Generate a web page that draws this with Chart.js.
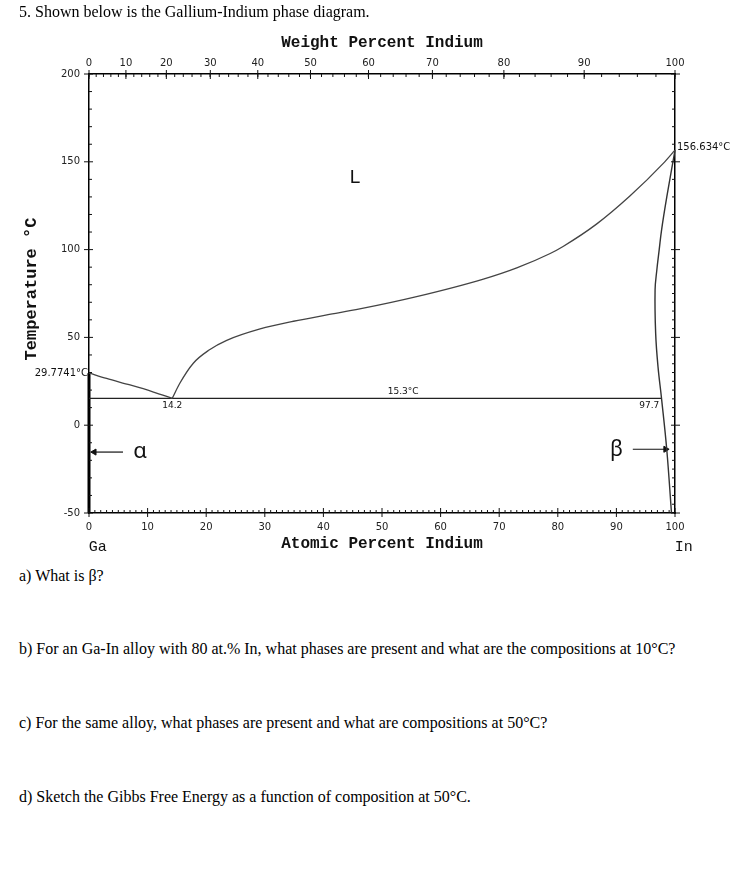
<!DOCTYPE html>
<html>
<head>
<meta charset="utf-8">
<script src="https://cdn.jsdelivr.net/npm/chart.js@4.4.0/dist/chart.umd.min.js"></script>
<style>
  html, body { margin: 0; padding: 0; background: #fff; }
  body { width: 749px; height: 873px; position: relative; overflow: hidden; }
  #wrap { position: absolute; left: 0; top: 0; width: 749px; height: 560px; }
  .q { position: absolute; left: 19px; font-family: "Liberation Serif", serif; font-size: 16px;
       line-height: 18px; color: #000; white-space: nowrap; z-index: 2; }
</style>
</head>
<body>
<div id="wrap"><canvas id="chart"></canvas></div>
<div class="q" style="top:3px">5. Shown below is the Gallium-Indium phase diagram.</div>
<div class="q" style="top:567px">a) What is β?</div>
<div class="q" style="top:640px">b) For an Ga-In alloy with 80 at.% In, what phases are present and what are the compositions at 10°C?</div>
<div class="q" style="top:714px">c) For the same alloy, what phases are present and what are compositions at 50°C?</div>
<div class="q" style="top:788px">d) Sketch the Gibbs Free Energy as a function of composition at 50°C.</div>
<script>
// liquidus on the Ga side (atomic % In, °C)
const gaLiqX = [0, 3, 7, 11, 14.2];
const gaLiqT = [29.7741, 26.6, 22.9, 18.9, 15.3];

// liquidus on the In side
const inLiqX = [14.2, 15.5, 17.8, 20.5, 23.5, 29.2, 34.9, 40.6, 46.2, 55.9, 67.3, 73, 78.7, 80.9, 86.6, 92.3, 98, 100];
const inLiqT = [15.3, 23.9, 35.3, 42.8, 48.3, 54.8, 59.2, 62.8, 66.2, 73.2, 83.2, 89.6, 97.8, 101.8, 114.5, 130.5, 149.1, 156.634];

// beta boundary
const betaX = [100, 98.6, 97.7, 97.3, 96.9, 96.6, 96.7, 97.1, 97.7, 98.6, 99.4];
const betaT = [156.634, 130, 111, 99.8, 88.4, 77, 52.3, 33.3, 15.3, -14.1, -50];

// eutectic line and pure Ga (alpha) line
const eutX = [0, 97.7];
const eutT = [15.3, 15.3];
const alphaX = [0, 0];
const alphaT = [29.7741, -50];

// arrows pointing at the phases
const alphaArrowX = [5.8, 0.9];
const alphaArrowT = [-15.3, -15.3];
const betaArrowX = [92.8, 98.4];
const betaArrowT = [-13.7, -13.7];

// top axis: weight percent labels and where they sit on the atomic scale
const wtLabels = ['0', '10', '20', '30', '40', '50', '60', '70', '80', '90', '100'];
const wtAtPos = [0, 6.3, 13.2, 20.7, 28.8, 37.8, 47.7, 58.6, 70.8, 84.5, 100];

// text in the plot
const annoText = ['L', 'α', 'β', '14.2', '15.3°C', '97.7'];
const annoX = [45.4, 8.7, 90, 14.2, 53.6, 95.6];
const annoT = [140.8, -15.3, -14, 11.3, 19.2, 11.3];

const pts = (xs, ys) => xs.map((v, i) => ({ x: v, y: ys[i] }));

// weight % In -> atomic % In (only used to place the small top ticks)
const wtToAt = (w) => {
    const a = w / 114.818, b = (100 - w) / 69.723;
    return 100 * a / (a + b);
};

const annoFont = [
    '19px "Liberation Sans"', '22px "Noto Sans"', '21px "Noto Sans"',
    '9px "DejaVu Sans"', '9px "DejaVu Sans"', '9px "DejaVu Sans"'
];

const phaseExtras = {
    id: 'phaseExtras',
    afterDatasetsDraw(chart) {
        const { ctx, chartArea: a, scales: { x, y } } = chart;
        const seg = (x1, y1, x2, y2) => {
            ctx.beginPath(); ctx.moveTo(x1, y1); ctx.lineTo(x2, y2); ctx.stroke();
        };
        ctx.save();
        ctx.strokeStyle = '#111';
        ctx.lineWidth = 1;

        // bottom ticks every 1 at.%
        for (let v = 0; v <= 100; v++) {
            const px = x.getPixelForValue(v);
            if (v % 10 === 0) seg(px, a.bottom - 5, px, a.bottom + 4);
            else seg(px, a.bottom - 3, px, a.bottom);
        }
        // top ticks every 2 wt.%
        for (let w = 0; w <= 100; w += 2) {
            const px = x.getPixelForValue(wtToAt(w));
            seg(px, a.top, px, a.top + 3);
        }
        wtAtPos.forEach((v) => {
            const px = x.getPixelForValue(v);
            seg(px, a.top - 4, px, a.top + 5);
        });
        // left ticks
        for (let t = -50; t <= 200; t += 10) {
            const py = y.getPixelForValue(t);
            if (t % 50 === 0) seg(a.left - 5, py, a.left + 4, py);
            else seg(a.left, py, a.left + 3, py);
        }
        // right ticks
        for (let t = -50; t <= 200; t += (t < 100 ? 5 : 10)) {
            const py = y.getPixelForValue(t);
            if (t % 50 === 0) seg(a.right - 4, py, a.right + 5, py);
            else seg(a.right - 3, py, a.right, py);
        }

        // labels inside the plot
        ctx.fillStyle = '#111';
        ctx.textAlign = 'center';
        ctx.textBaseline = 'middle';
        annoText.forEach((t, i) => {
            ctx.font = annoFont[i];
            ctx.fillText(t, x.getPixelForValue(annoX[i]), y.getPixelForValue(annoT[i]));
        });

        // temperatures at the edges
        ctx.font = '10px "DejaVu Sans"';
        ctx.textAlign = 'right';
        ctx.fillText('29.7741°C', a.left - 1, y.getPixelForValue(29.7741));
        ctx.textAlign = 'left';
        ctx.fillText('156.634°C', a.right + 2, y.getPixelForValue(158.2));

        // axis titles
        ctx.textAlign = 'center';
        ctx.font = 'bold 16px "Liberation Mono"';
        const mid = (a.left + a.right) / 2;
        ctx.fillText('Weight Percent Indium', mid, 43);
        ctx.fillText('Atomic Percent Indium', mid, 544);
        ctx.font = '15px "Liberation Mono"';
        ctx.fillText('Ga', x.getPixelForValue(1.5), 547);
        ctx.fillText('In', x.getPixelForValue(101.5), 547);
        ctx.save();
        ctx.translate(32, 289);
        ctx.rotate(-Math.PI / 2);
        ctx.font = 'bold 17px "Liberation Mono"';
        ctx.fillText('Temperature °C', 0, 0);
        ctx.restore();

        ctx.restore();
    }
};

const curve = (data, color, width, tension, mode) => ({
    data: data, showLine: true, borderColor: color, borderWidth: width,
    pointRadius: 0, tension: tension, cubicInterpolationMode: mode || 'default',
    clip: false, fill: false
});

const arrow = (data, rot) => ({
    data: data, showLine: true, borderColor: '#111', borderWidth: 1.2,
    backgroundColor: '#111', pointStyle: 'triangle', rotation: rot,
    pointRadius: [0, 3.5], pointBorderWidth: 1, clip: false
});

const tickFont = { family: 'DejaVu Sans', size: 10 };

new Chart(document.getElementById('chart'), {
    type: 'scatter',
    data: {
        datasets: [
            curve(pts(gaLiqX, gaLiqT), '#444', 1.3, 0.4, 'monotone'),
            curve(pts(inLiqX, inLiqT), '#444', 1.3, 0.4, 'monotone'),
            curve(pts(betaX, betaT), '#333', 1.4, 0.4),
            curve(pts(eutX, eutT), '#222', 1.3, 0),
            curve(pts(alphaX, alphaT), '#000', 3, 0),
            arrow(pts(alphaArrowX, alphaArrowT), -90),
            arrow(pts(betaArrowX, betaArrowT), 90)
        ]
    },
    options: {
        responsive: true,
        maintainAspectRatio: false,
        animation: false,
        events: [],
        layout: { padding: 0 },
        plugins: { legend: { display: false }, tooltip: { enabled: false } },
        scales: {
            x: {
                type: 'linear', position: 'bottom', min: 0, max: 100,
                grid: { display: false, drawTicks: false },
                border: { display: true, color: '#000', width: 1.5 },
                ticks: { stepSize: 10, padding: 8, font: tickFont, color: '#222', maxRotation: 0 },
                afterFit: (s) => { s.height = 47; }
            },
            xTop: {
                type: 'linear', position: 'top', min: 0, max: 100,
                grid: { display: false, drawTicks: false },
                border: { display: true, color: '#000', width: 1.5 },
                afterBuildTicks: (s) => { s.ticks = wtAtPos.map((v) => ({ value: v })); },
                ticks: {
                    autoSkip: false, padding: 5, font: tickFont, color: '#222', maxRotation: 0,
                    callback: (v, i) => wtLabels[i]
                },
                afterFit: (s) => { s.height = 74; }
            },
            y: {
                type: 'linear', position: 'left', min: -50, max: 200,
                grid: { display: false, drawTicks: false },
                border: { display: true, color: '#000', width: 1.5 },
                ticks: { stepSize: 50, padding: 9, font: tickFont, color: '#222' },
                afterFit: (s) => { s.width = 89; }
            },
            yRight: {
                type: 'linear', position: 'right', min: -50, max: 200,
                grid: { display: false, drawTicks: false },
                border: { display: true, color: '#000', width: 1.5 },
                ticks: { display: false },
                afterFit: (s) => { s.width = 74; }
            }
        }
    },
    plugins: [phaseExtras]
});
</script>
</body>
</html>
